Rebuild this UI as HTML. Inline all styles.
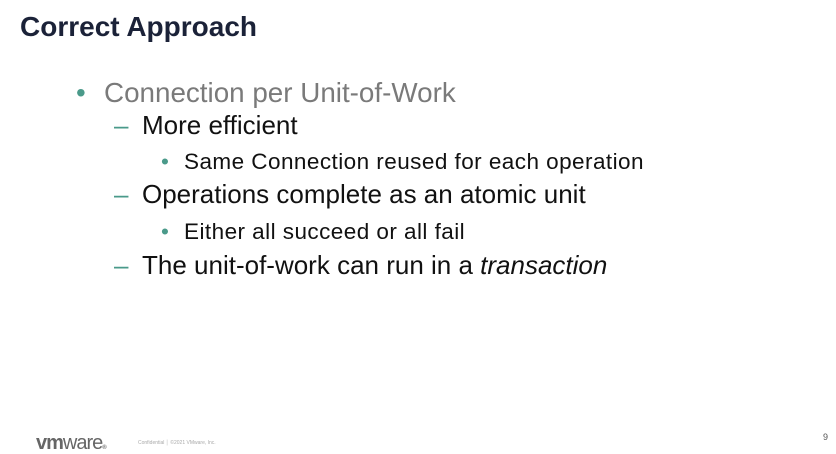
<!DOCTYPE html>
<html><head><style>
body{margin:0;width:836px;height:445px;background:#fff;position:relative;overflow:hidden;font-family:"Liberation Sans",sans-serif}
div{position:absolute;white-space:nowrap;line-height:1}
.t{left:20px;top:13px;font-size:28px;font-weight:bold;color:#1b2238;letter-spacing:0px}
.l1{font-size:27.8px;color:#7a7a7a}
.l2{font-size:26px;color:#111}
.l3{font-size:22.5px;color:#111;letter-spacing:0.45px}
.b{color:#4a9a8a;letter-spacing:0}
</style></head><body>
<div class="t">Correct Approach</div>
<div class="l1 b" style="left:76px;top:79px">•</div>
<div class="l1" style="left:104px;top:79px">Connection per Unit-of-Work</div>
<div class="l2 b" style="left:114px;top:112px">–</div>
<div class="l2" style="left:142px;top:112px">More efficient</div>
<div class="l3 b" style="left:161px;top:151px">•</div>
<div class="l3" style="left:184px;top:151px">Same Connection reused for each operation</div>
<div class="l2 b" style="left:114px;top:181px">–</div>
<div class="l2" style="left:142px;top:181px">Operations complete as an atomic unit</div>
<div class="l3 b" style="left:161px;top:221px">•</div>
<div class="l3" style="left:184px;top:221px">Either all succeed or all fail</div>
<div class="l2 b" style="left:114px;top:252px">–</div>
<div class="l2" style="left:142px;top:252px">The unit-of-work can run in a <i>transaction</i></div>
<div style="left:36px;top:433px;font-size:20px;font-weight:bold;color:#666;letter-spacing:-1px">vm<span style="font-weight:normal">ware</span><span style="font-size:6px">®</span></div>
<div style="left:138px;top:441px;font-size:5px;color:#aaa">Confidential │ ©2021 VMware, Inc.</div>
<div style="left:823px;top:433px;font-size:9px;color:#555">9</div>
</body></html>
